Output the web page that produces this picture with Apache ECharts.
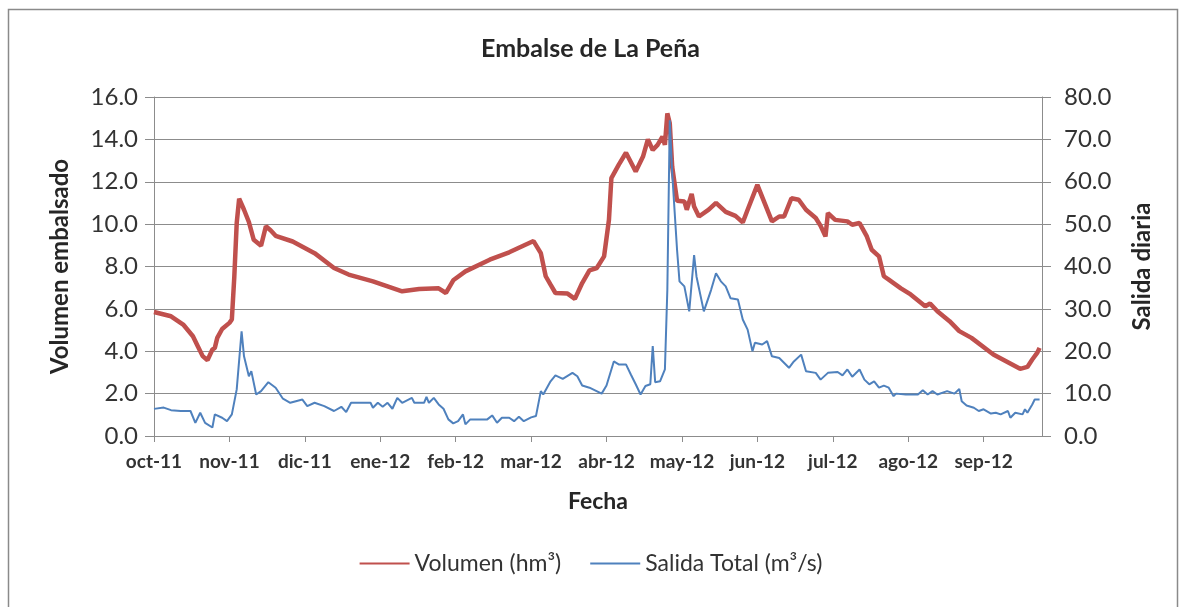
<!DOCTYPE html>
<html>
<head>
<meta charset="utf-8">
<script src="https://cdn.jsdelivr.net/npm/echarts@6/dist/echarts.min.js"></script>
<style>
  html, body { margin: 0; padding: 0; background: #fff; }
  #chart { width: 1181px; height: 607px; }
</style>
</head>
<body>
<div id="chart"></div>
<script>
// eje X: un dia por categoria, oct-11 .. sep-12
var startDay = Date.UTC(2011, 9, 1);
var nDays = 366;
var meses = ['ene', 'feb', 'mar', 'abr', 'may', 'jun', 'jul', 'ago', 'sep', 'oct', 'nov', 'dic'];

// Volumen (hm3): dia desde 1-oct-11 y valor
var volDay = [0, 7, 12, 16, 18, 20, 22, 24, 25, 26, 28, 31, 32, 33, 34, 35, 37, 39, 41, 44, 46, 48, 50, 57, 66, 74, 80, 90,
  102, 109, 117, 120, 123, 128, 138, 146, 156, 159, 161, 163, 165, 170, 173, 176, 179, 182, 185, 187, 188, 191, 194, 198,
  201, 203, 205, 207, 209, 210, 211, 212, 213, 215, 218, 219, 221, 222, 224, 228, 231, 235, 239, 242, 244, 248, 251, 254,
  257, 259, 262, 265, 268, 272, 274, 276, 277, 280, 285, 287, 290, 293, 295, 298, 300, 302, 307, 311, 317, 319, 322, 327,
  331, 336, 345, 356, 359, 361, 363, 364];
var volVal = [5.85, 5.65, 5.26, 4.71, 4.24, 3.77, 3.58, 4.08, 4.16, 4.63, 5.05, 5.34, 5.5, 7.5, 10.05, 11.2, 10.68, 10.1, 9.26,
  8.98, 9.9, 9.7, 9.45, 9.18, 8.63, 7.93, 7.62, 7.3,
  6.83, 6.94, 6.97, 6.75, 7.35, 7.77, 8.32, 8.67, 9.2, 8.63, 7.54, 7.14, 6.75, 6.72, 6.47, 7.22, 7.82, 7.93, 8.48, 10.2,
  12.17, 12.8, 13.37, 12.48,
  13.19, 14.0, 13.5, 13.74, 14.13, 13.74, 15.23, 14.76, 12.7, 11.1, 11.07, 10.68, 11.43, 10.83, 10.36, 10.68, 11.0, 10.58,
  10.39, 10.08, 10.68, 11.85, 10.99, 10.13,
  10.36, 10.36, 11.22, 11.15, 10.68, 10.29, 9.92, 9.42, 10.52, 10.2, 10.13, 9.97, 10.05, 9.42, 8.79, 8.48, 7.54, 7.38,
  6.97, 6.68, 6.12, 6.25, 5.89, 5.42,
  4.95, 4.63, 3.85, 3.17, 3.26, 3.61, 3.92, 4.16];

// Salida Total (m3/s)
var salDay = [0, 4, 7, 11, 15, 17, 19, 21, 24, 25, 28, 30, 32, 34, 36, 37, 39, 40, 42, 44, 47, 50, 53, 56, 61, 63, 66, 70,
  74, 77, 79, 81, 89, 90, 92, 94, 96, 98, 100, 102, 106, 107, 111, 112, 113, 115, 117, 119, 121, 123, 125, 127, 128, 130,
  137, 139, 141, 143, 146, 148, 150, 152, 155, 157, 159, 160, 163, 165, 168, 172, 174, 176, 179, 184, 186, 189, 191, 194,
  196, 198, 200, 202, 204, 205, 206, 208, 210, 211, 212, 213, 215, 216, 218, 220, 222, 223, 226, 229, 231, 233, 235, 237,
  240, 242, 244, 246, 247, 250, 252, 254, 257, 261, 263, 266, 268, 272, 274, 277, 281, 283, 285, 287, 290, 292, 294, 296,
  298, 300, 302, 304, 305, 309, 314, 316, 318, 320, 322, 326, 329, 331, 332, 334, 337, 339, 341, 344, 346, 348, 351, 352,
  354, 357, 358, 359, 361, 362, 364];
var salVal = [6.4, 6.7, 6.1, 5.9, 5.9, 3.1, 5.5, 3.1, 2.0, 5.1, 4.3, 3.5, 5.1, 11, 24.7, 18.8, 14.1, 15.3, 9.8, 10.6, 12.7,
  11.4, 8.8, 7.84, 8.6, 7.06, 7.84, 7.06,
  5.9, 6.9, 5.65, 7.84, 7.84, 6.67, 7.84, 6.9, 7.84, 6.43, 9.0, 7.84, 9.0, 7.84, 7.84, 9.25, 7.84, 9.0, 7.45, 6.43, 3.92,
  2.98, 3.5, 5.1, 2.75, 3.92,
  3.92, 4.86, 3.14, 4.3, 4.3, 3.5, 4.55, 3.5, 4.4, 4.7, 10.6, 9.8, 12.9, 14.3, 13.5, 14.9, 14.1, 11.9, 11.4, 10.0, 11.9,
  17.6, 16.9, 16.9,
  14.5, 12.2, 9.8, 11.8, 12.2, 21.2, 12.7, 12.9, 15.7, 34.5, 74.5, 62, 43.9, 36.5, 35.3, 29.4, 42.7, 37.6, 29.4, 34.5,
  38.4, 36.5, 35.3, 32.5,
  32.2, 27.5, 25.1, 20.0, 22.0, 21.6, 22.4, 18.8, 18.4, 16.1, 17.6, 19.2, 15.3, 14.9, 13.3, 14.9, 15.1, 14.3, 15.7, 14.0,
  15.7, 13.3, 12.2, 12.9,
  11.4, 11.9, 11.4, 9.4, 10.0, 9.8, 9.8, 10.8, 9.8, 10.6, 9.8, 10.6, 10.0, 11.1, 8.2, 7.2, 6.67, 5.9, 6.3, 5.3, 5.5, 5.1,
  5.9, 4.3,
  5.5, 5.1, 6.3, 5.5, 7.45, 8.6, 8.6];

var fechas = [];
for (var i = 0; i < nDays; i++) {
  fechas.push(new Date(startDay + i * 86400000).toISOString().slice(0, 10));
}
function etiqueta(f) {
  var p = f.split('-');
  return meses[+p[1] - 1] + '-' + p[0].slice(2);
}

var FONT = 'Lato';
var GRIS = '#8c8c8c';
var chart = echarts.init(document.getElementById('chart'));

var option = {
  backgroundColor: '#fff',
  animation: false,
  textStyle: { fontFamily: FONT },
  graphic: [{
    type: 'rect',
    shape: { x: 8.5, y: 9.5, width: 1169, height: 640 },
    style: { fill: 'none', stroke: '#8a8a8a', lineWidth: 1.5 }
  }],
  title: {
    text: 'Embalse de La Peña',
    left: 'center',
    top: 31,
    textStyle: { fontFamily: FONT, fontSize: 25, fontWeight: 'bold', color: '#262626' }
  },
  legend: {
    left: 'center',
    top: 547,
    itemWidth: 50,
    itemHeight: 14,
    itemGap: 28,
    itemStyle: { opacity: 0 },
    textStyle: { fontFamily: FONT, fontSize: 23, color: '#333' },
    data: ['Volumen (hm³)', 'Salida Total (m³/s)']
  },
  grid: { left: 154, right: 139, top: 97, bottom: 171 },
  xAxis: {
    type: 'category',
    data: fechas,
    boundaryGap: false,
    name: 'Fecha',
    nameLocation: 'middle',
    nameGap: 54,
    nameTextStyle: { fontFamily: FONT, fontSize: 23, fontWeight: 'bold', color: '#262626' },
    axisLine: { lineStyle: { color: GRIS, width: 1 } },
    axisTick: { interval: 30, length: 6, lineStyle: { color: GRIS } },
    axisLabel: {
      interval: 30,
      margin: 16,
      fontFamily: FONT,
      fontSize: 19,
      fontWeight: 'bold',
      color: '#333',
      formatter: etiqueta
    },
    splitLine: { show: false }
  },
  yAxis: [{
    type: 'value',
    min: 0,
    max: 16,
    interval: 2,
    name: 'Volumen embalsado',
    nameLocation: 'middle',
    nameRotate: 90,
    nameGap: 82,
    nameTextStyle: { fontFamily: FONT, fontSize: 24, fontWeight: 'bold', color: '#262626' },
    axisLine: { show: true, lineStyle: { color: GRIS } },
    axisTick: { show: true, length: 9, lineStyle: { color: GRIS } },
    axisLabel: { margin: 16, fontFamily: FONT, fontSize: 24, color: '#333', formatter: function (v) { return v.toFixed(1); } },
    splitLine: { lineStyle: { color: GRIS, width: 1 } }
  }, {
    type: 'value',
    min: 0,
    max: 80,
    interval: 10,
    name: 'Salida diaria',
    nameLocation: 'middle',
    nameRotate: 90,
    nameGap: 88,
    nameTextStyle: { fontFamily: FONT, fontSize: 24, fontWeight: 'bold', color: '#262626' },
    axisLine: { show: true, lineStyle: { color: GRIS } },
    axisTick: { show: true, length: 9, lineStyle: { color: GRIS } },
    axisLabel: { margin: 22, fontFamily: FONT, fontSize: 24, color: '#333', formatter: function (v) { return v.toFixed(1); } },
    splitLine: { show: false }
  }],
  series: [{
    name: 'Volumen (hm³)',
    type: 'line',
    yAxisIndex: 0,
    symbol: 'none',
    color: '#c0504d',
    lineStyle: { color: '#c0504d', width: 4.5 },
    data: volDay.map(function (d, i) { return [fechas[d], volVal[i]]; })
  }, {
    name: 'Salida Total (m³/s)',
    type: 'line',
    yAxisIndex: 1,
    symbol: 'none',
    color: '#4f81bd',
    lineStyle: { color: '#4f81bd', width: 2 },
    data: salDay.map(function (d, i) { return [fechas[d], salVal[i]]; })
  }]
};
chart.setOption(option);
</script>
</body>
</html>
